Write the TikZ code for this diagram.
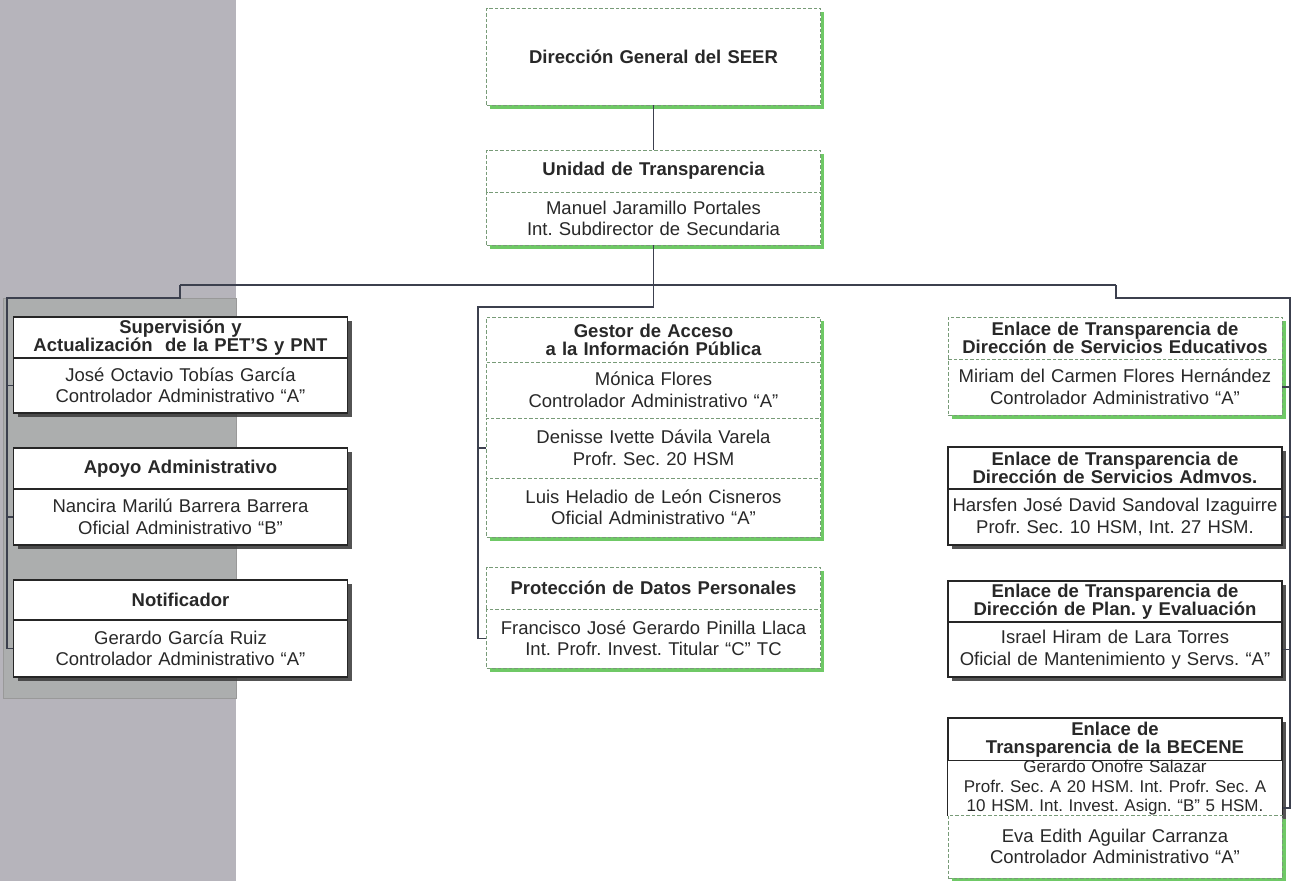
\documentclass[tikz,border=0pt]{standalone}
\usepackage{fontspec}
\setmainfont{Liberation Sans}
\usetikzlibrary{shadows}
\frenchspacing
\definecolor{bandgray}{RGB}{182,180,187}
\definecolor{panelgray}{RGB}{172,174,174}
\definecolor{dashgreen}{RGB}{120,155,120}
\definecolor{shadegreen}{RGB}{95,195,85}
\definecolor{linegray}{RGB}{60,64,78}
\definecolor{textgray}{RGB}{40,40,40}
\newcommand{\ctrlA}{Controlador Administrativo “A”}

\begin{document}
\begin{tikzpicture}[x=1pt,y=-1pt,
  box/.style={fill=white, text=textgray, minimum width=334pt, text width=334pt, align=center, inner xsep=0pt, inner ysep=0pt, font=\fontsize{18.5}{21.5}\selectfont},
  hbox/.style={box, font=\bfseries\fontsize{18.5}{18}\selectfont},
  knode/.style={draw=black!85, line width=1.2pt, drop shadow={shadow xshift=4pt, shadow yshift=-4pt, fill=black!75, opacity=.9}},
  gnode/.style={draw=dashgreen, line width=0.9pt, dash pattern=on 3.5pt off 2pt, drop shadow={shadow xshift=3.5pt, shadow yshift=-3.5pt, fill=shadegreen, opacity=.9}},
  conn/.style={draw=linegray, line width=1.3pt}]
    \useasboundingbox (0,0) rectangle (1291,881);
    \fill[bandgray] (0,0) rectangle (236,881);
    \draw[fill=panelgray, draw=gray!80, line width=0.6pt] (3,298) rectangle (236,698);

    \node[hbox,gnode,minimum height=97pt] (dg) at (653.5,56.5) {Dirección General del SEER};
    \node[hbox,gnode,minimum height=42pt] (ut1) at (653.5,171) {Unidad de Transparencia};
    \node[box,gnode,minimum height=53pt] (ut2) at (653.5,218.5) {Manuel Jaramillo Portales\\Int. Subdirector de Secundaria};

    \node[hbox,knode,minimum height=41pt] (s1) at (180.5,337.5) {Supervisión y\\Actualización~ de la PET'S y PNT};
    \node[box,knode,minimum height=55pt] (s2) at (180.5,385.5) {José Octavio Tobías García\\\ctrlA};
    \node[hbox,knode,minimum height=41pt] (a1) at (180.5,468.5) {Apoyo Administrativo};
    \node[box,knode,minimum height=56pt] (a2) at (180.5,517) {Nancira Marilú Barrera Barrera\\Oficial Administrativo “B”};
    \node[hbox,knode,minimum height=40pt] (n1) at (180.5,600) {Notificador};
    \node[box,knode,minimum height=57pt] (n2) at (180.5,648.5) {Gerardo García Ruiz\\\ctrlA};

    \node[hbox,gnode,minimum height=45pt] (g1) at (653.5,339.5) {Gestor de Acceso\\a la Información Pública};
    \node[box,gnode,minimum height=56pt] (g2) at (653.5,390) {Mónica Flores\\\ctrlA};
    \node[box,gnode,minimum height=60pt] (g3) at (653.5,448) {Denisse Ivette Dávila Varela\\Profr. Sec. 20 HSM};
    \node[box,gnode,minimum height=59pt] (g4) at (653.5,507.5) {Luis Heladio de León Cisneros\\Oficial Administrativo “A”};
    \node[hbox,gnode,minimum height=42pt] (pd1) at (653.5,588) {Protección de Datos Personales};
    \node[box,gnode,minimum height=59pt] (pd2) at (653.5,638.5) {Francisco José Gerardo Pinilla Llaca\\Int. Profr. Invest. Titular “C” TC};

    \node[hbox,gnode,minimum height=42pt] (e1) at (1115,338) {Enlace de Transparencia de\\Dirección de Servicios Educativos};
    \node[box,gnode,minimum height=56pt] (e2) at (1115,387) {Miriam del Carmen Flores Hernández\\\ctrlA};
    \node[hbox,knode,minimum height=42pt] (d1) at (1115,468) {Enlace de Transparencia de\\Dirección de Servicios Admvos.};
    \node[box,knode,minimum height=56pt] (d2) at (1115,517) {Harsfen José David Sandoval Izaguirre\\Profr. Sec. 10 HSM, Int. 27 HSM.};
    \node[hbox,knode,minimum height=41pt] (l1) at (1115,601.5) {Enlace de Transparencia de\\Dirección de Plan. y Evaluación};
    \node[box,knode,minimum height=55pt] (l2) at (1115,649.5) {Israel Hiram de Lara Torres\\Oficial de Mantenimiento y Servs. “A”};
    \node[hbox,knode,minimum height=43pt] (b1) at (1115,739.5) {Enlace de\\Transparencia de la BECENE};
    \node[box,knode,draw=none,minimum height=54pt,font=\fontsize{17}{19.5}\selectfont] (b2) at (1115,788) {Gerardo Onofre Salazar\\Profr. Sec. A 20 HSM. Int. Profr. Sec. A\\10 HSM. Int. Invest. Asign. “B” 5 HSM.};
    \draw[draw=black!85, line width=1.2pt] (b2.south west) -- (b2.north west) (b2.north east) -- (b2.south east);
    \node[box,gnode,minimum height=63pt] (b3) at (1115,846.5) {Eva Edith Aguilar Carranza\\\ctrlA};

    \coordinate (jl) at (180,285);
    \coordinate (jr) at (1116,285);
    \coordinate (jm) at (653.5,307);
    \coordinate (lx) at (7,298);
    \coordinate (mx) at (478,307);
    \coordinate (rx) at (1290,298);
    \coordinate (bt) at ([yshift=8pt]b2.south east);

   \begin{scope}[conn]
    \draw (dg) -- (ut1) ;
    \draw (ut2) -- (jm) ;
    \draw (jl) -- (jr) ;

    \draw (jl) |- (lx) |- (n2.west) ;
    \draw (s2.west -| lx) -- (s2.west) ;
    \draw (a2.west -| lx) -- (a2.west) ;

    \draw (jm) -- (mx) |- (pd2.west) ;
    \draw (g3.west -| mx) -- (g3.west) ;

    \draw (jr) |- (rx) |- (bt) ;
    \draw (e2.east) -- (e2.east -| rx) ;
    \draw (d2.east) -- (d2.east -| rx) ;
    \draw (l2.east) -- (l2.east -| rx) ;
   \end{scope}
\end{tikzpicture}
\end{document}
